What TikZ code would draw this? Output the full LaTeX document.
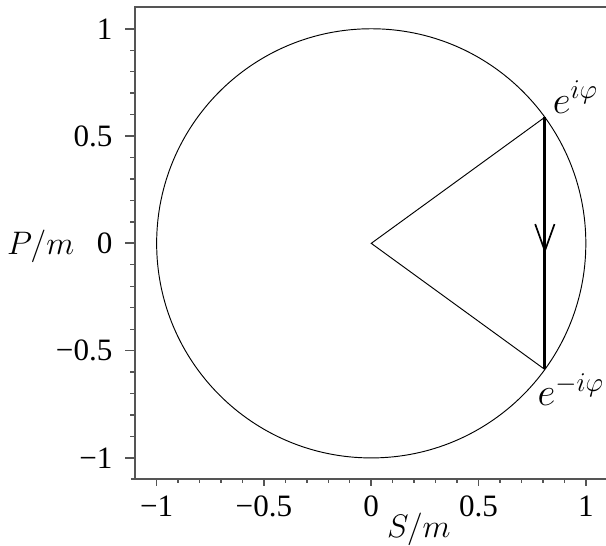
\documentclass[tikz,border=0pt]{standalone}
\usepackage[no-math]{fontspec}
\setmainfont{Liberation Serif}
\usetikzlibrary{arrows.meta,decorations.markings}
\definecolor{axisgray}{HTML}{555555}
\tikzset{
  axis/.style={line width=1.1pt,draw=axisgray},
  majortick/.style={line width=0.9pt,draw=axisgray},
  minortick/.style={line width=0.7pt,draw=axisgray},
  thinedge/.style={line width=0.5pt},
  chord/.style={line width=1.7pt,
    postaction={decorate,decoration={markings,
      mark=at position 0.54 with {\arrow{Straight Barb[length=5mm,width=3.6mm,line width=0.9pt]}}}}},
  ticklab/.style={font=\fontsize{16.5}{19}\selectfont},
  lab/.style={font=\fontsize{18}{20}\selectfont},
  phase/.style={font=\fontsize{19.5}{22}\selectfont,inner sep=1pt},
}

\begin{document}
\begin{tikzpicture}[x=4cm,y=4cm]
  \useasboundingbox (-1.730,-1.406) rectangle (1.094,1.134);
  % axes box
  \coordinate (O) at (-1.1,-1.1);
  \coordinate (TL) at (-1.1,1.1);
  \coordinate (TR) at (1.1,1.1);
  \coordinate (BR) at (1.1,-1.1);
  \draw[axis] (-1.12,-1.1) -- (BR);
  \draw[axis] (O) -- (TL) -- (TR);
  % ticks
  \foreach \t in {-10,...,10}{
    \draw[minortick] (\t/10,-1.1) -- ++(0,-0.018);
    \draw[minortick] (-1.1,\t/10) -- ++(-0.022,0);
  }
  \foreach \t/\l in {-1/−1,-0.5/−0.5,0/0,0.5/0.5,1/1}{
    \draw[majortick] (\t,-1.1) -- ++(0,-0.033);
    \draw[majortick] (-1.1,\t) -- ++(-0.046,0);
    \node[ticklab] (xl\t) at (\t,-1.224) {\l};
    \node[ticklab,anchor=east] (yl\t) at (-1.175,\t) {\l};
  }
  \node[lab] (xlab) at (0.222,-1.335) {$S/m$};
  \node[lab] (ylab) at (-1.54,-0.012) {$P/m$};
  % unit circle and the two phases
  \coordinate (c) at (0,0);
  \coordinate (p) at (36:1);
  \coordinate (q) at (-36:1);
  \draw[thinedge] (c) circle (1);
  \draw[thinedge] (p) -- (c) -- (q);
  \draw[chord] (p) -- (q);
  \node[phase,anchor=south west] (plab) at ([xshift=3pt,yshift=1pt]p) {$e^{i\varphi}$};
  \node[phase,anchor=north west] (qlab) at ([xshift=-5pt,yshift=-1pt]q) {$e^{-i\varphi}$};
\end{tikzpicture}
\end{document}
